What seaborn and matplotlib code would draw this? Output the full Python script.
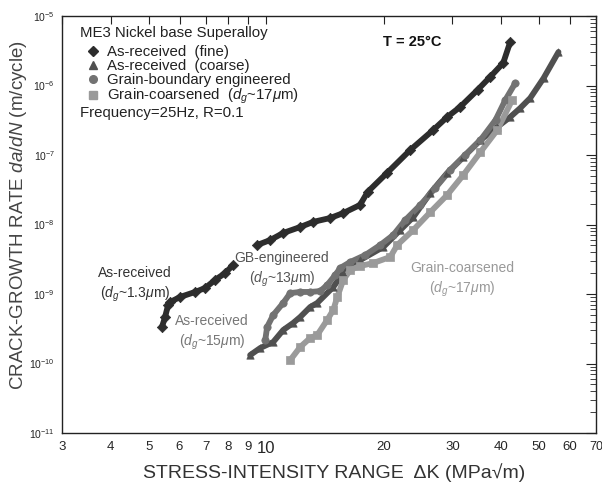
import numpy as np
import pandas as pd
import seaborn as sns
import matplotlib
matplotlib.use("Agg")
import matplotlib.pyplot as plt
from matplotlib.lines import Line2D
from matplotlib.ticker import LogLocator, FixedLocator, FixedFormatter, NullLocator, NullFormatter, LogFormatterMathtext

# ---------------- data ----------------
fine_dk = [5.41, 5.51, 5.61, 5.68, 6.02, 6.58, 6.98, 7.40, 7.85, 8.23,
           9.49, 10.25, 11.06, 12.23, 13.2, 14.6, 15.76, 17.4, 18.2, 20.4,
           23.4, 26.8, 29.1, 31.4, 34.8, 37.5, 40.5, 42.2]
fine_rate = [3.35e-10, 4.67e-10, 6.95e-10, 7.67e-10, 9.06e-10, 1.07e-9, 1.22e-9, 1.59e-9, 2.0e-9, 2.61e-9,
             5.07e-9, 5.98e-9, 7.55e-9, 9.2e-9, 1.09e-8, 1.24e-8, 1.46e-8, 1.91e-8, 2.94e-8, 5.51e-8,
             1.18e-7, 2.29e-7, 3.52e-7, 4.91e-7, 8.62e-7, 1.33e-6, 2.11e-6, 4.23e-6]
fine_seg = [0] * 10 + [1] * 18

coarse_dk = [9.10, 9.66, 10.43, 11.06, 11.73, 12.23, 12.97, 13.52, 14.86, 15.76,
             17.43, 19.96, 22.07, 23.83, 26.35, 29.1, 32.0, 35.4, 39.1, 42.2,
             44.8, 47.5, 51.4, 56.1]
coarse_rate = [1.32e-10, 1.67e-10, 2.04e-10, 3.03e-10, 3.83e-10, 4.67e-10, 6.5e-10, 7.43e-10, 1.26e-9, 2.0e-9,
               3.08e-9, 4.74e-9, 8.34e-9, 1.28e-8, 2.84e-8, 5.51e-8, 9.36e-8, 1.64e-7, 2.53e-7, 3.52e-7,
               4.75e-7, 6.61e-7, 1.28e-6, 3.03e-6]

gb_dk = [9.95, 10.06, 10.43, 11.06, 11.53, 12.23, 12.97, 13.76, 14.34, 15.04,
         15.49, 16.43, 17.95, 19.61, 21.17, 22.73, 24.84, 27.13, 29.65, 32.4,
         35.4, 38.7, 41.0, 43.5]
gb_rate = [2.18e-10, 3.35e-10, 4.99e-10, 7.43e-10, 1.03e-9, 1.07e-9, 1.07e-9, 1.10e-9, 1.35e-9, 1.88e-9,
           2.37e-9, 2.89e-9, 3.64e-9, 5.07e-9, 7.06e-9, 1.16e-8, 1.91e-8, 3.35e-8, 6.08e-8, 1.0e-7,
           1.64e-7, 3.19e-7, 6.18e-7, 1.09e-6]

gc_dk = [11.53, 12.23, 12.97, 13.52, 14.34, 14.86, 15.22, 15.76, 16.43, 17.43,
         18.82, 20.8, 21.68, 23.83, 26.35, 29.1, 32.0, 35.4, 39.1, 42.7]
gc_rate = [1.12e-10, 1.73e-10, 2.33e-10, 2.57e-10, 4.23e-10, 5.89e-10, 9.06e-10, 1.59e-9, 2.22e-9, 2.53e-9,
           2.79e-9, 3.41e-9, 5.07e-9, 8.34e-9, 1.51e-8, 2.66e-8, 5.15e-8, 1.10e-7, 2.29e-7, 6.18e-7]

series_names = ["As-received  (fine)", "As-received  (coarse)",
                "Grain-boundary engineered", "Grain-coarsened  ($d_g$~17$\\mu$m)"]
x_ticks = [3, 4, 5, 6, 7, 8, 9, 10, 20, 30, 40, 50, 60, 70]
y_ticks = [1e-11, 1e-10, 1e-9, 1e-8, 1e-7, 1e-6, 1e-5]

# ---------------- styling ----------------
sns.set_style("white")
plt.rcParams["font.family"] = ["Liberation Sans", "DejaVu Sans"]
plt.rcParams["mathtext.fontset"] = "custom"
plt.rcParams["mathtext.rm"] = "Liberation Sans"
plt.rcParams["mathtext.it"] = "Liberation Sans:italic"
plt.rcParams["mathtext.bf"] = "Liberation Sans:bold"

colors = ["#2d2d2d", "#505050", "#727272", "#9a9a9a"]
markers = ["D", "^", "o", "s"]

fig = plt.figure(figsize=(6.02, 4.84), dpi=100)
ax = fig.add_axes([62 / 602, 51 / 484, 534 / 602, 417 / 484])

data = [
    (fine_dk, fine_rate, fine_seg),
    (coarse_dk, coarse_rate, [0] * len(coarse_dk)),
    (gb_dk, gb_rate, [0] * len(gb_dk)),
    (gc_dk, gc_rate, [0] * len(gc_dk)),
]

handles = []
for i, (dk, rate, seg) in enumerate(data):
    df = pd.DataFrame({"dK": dk, "rate": rate, "seg": seg})
    sns.lineplot(data=df, x="dK", y="rate", units="seg", estimator=None, sort=False,
                 color=colors[i], lw=4.2, ax=ax, zorder=2 + i * 0.1)
    sns.scatterplot(data=df, x="dK", y="rate", marker=markers[i], color=colors[i],
                    s=28, edgecolor=colors[i], linewidth=0.5, ax=ax, zorder=3 + i * 0.1)
    handles.append(Line2D([], [], ls="none", marker=markers[i], color=colors[i],
                          markersize=5.5, label=series_names[i]))

ax.set_xscale("log")
ax.set_yscale("log")
ax.set_xlim(3, 70)
ax.set_ylim(1e-11, 1e-5)

ax.xaxis.set_major_locator(FixedLocator(x_ticks))
ax.xaxis.set_major_formatter(FixedFormatter([str(t) for t in x_ticks]))
ax.xaxis.set_minor_locator(NullLocator())
ax.yaxis.set_major_locator(FixedLocator(y_ticks))
ax.yaxis.set_major_formatter(LogFormatterMathtext())
ax.yaxis.set_minor_locator(LogLocator(base=10, subs=np.arange(2, 10), numticks=20))
ax.yaxis.set_minor_formatter(NullFormatter())

ax.tick_params(axis="both", which="both", direction="in", top=True, right=True, color="#222222")
ax.tick_params(axis="x", which="major", length=6, width=0.8, labelsize=9.5, pad=6)
ax.tick_params(axis="y", which="major", length=7, width=0.8, labelsize=7.5, pad=5)
ax.tick_params(axis="y", which="minor", length=4, width=0.6)
for lab in ax.get_xticklabels():
    if lab.get_text() == "10":
        lab.set_fontsize(12)
    if lab.get_text() == "70":
        lab.set_fontsize(9)

for sp in ax.spines.values():
    sp.set_color("#222222")
    sp.set_linewidth(1.0)

ax.set_xlabel("STRESS-INTENSITY RANGE  \u0394K (MPa\u221Am)", fontsize=14, color="#333333")
ax.xaxis.set_label_coords(0.509, -0.072)
ax.set_ylabel("CRACK-GROWTH RATE $da/dN$ (m/cycle)", fontsize=13.5, color="#444444")
ax.yaxis.set_label_coords(-0.062, 0.523)

# legend block
ax.text(18 / 534, (433 - 33) / 417, "ME3 Nickel base Superalloy", transform=ax.transAxes,
        fontsize=10.8, color="#222222", ha="left", va="center")
leg = ax.legend(handles=handles, loc="upper left", bbox_to_anchor=(25 / 534, (433 - 45) / 417),
                frameon=False, fontsize=10.8, handlelength=0.8,
                handletextpad=0.55, labelspacing=0.0, borderpad=0.0, borderaxespad=0)
for t in leg.get_texts():
    t.set_color("#222222")
ax.text(18 / 534, (433 - 113) / 417, "Frequency=25Hz, R=0.1", transform=ax.transAxes,
        fontsize=10.8, color="#222222", ha="left", va="center")

ax.text(0.655, 0.938, "T = 25\u00b0C", transform=ax.transAxes, fontsize=10.5,
        fontweight="bold", ha="center", va="center", color="#111111")

ax.text(0.137, 0.355, "As-received\n($d_g$~1.3$\\mu$m)", transform=ax.transAxes,
        fontsize=10, color="#333333", ha="center", va="center", linespacing=1.3)
ax.text(0.412, 0.391, "GB-engineered\n($d_g$~13$\\mu$m)", transform=ax.transAxes,
        fontsize=10, color="#555555", ha="center", va="center", linespacing=1.3)
ax.text(0.281, 0.240, "As-received\n($d_g$~15$\\mu$m)", transform=ax.transAxes,
        fontsize=10, color="#777777", ha="center", va="center", linespacing=1.3)
ax.text(0.749, 0.367, "Grain-coarsened\n($d_g$~17$\\mu$m)", transform=ax.transAxes,
        fontsize=10, color="#999999", ha="center", va="center", linespacing=1.3)

fig.savefig("out.png", dpi=100)
